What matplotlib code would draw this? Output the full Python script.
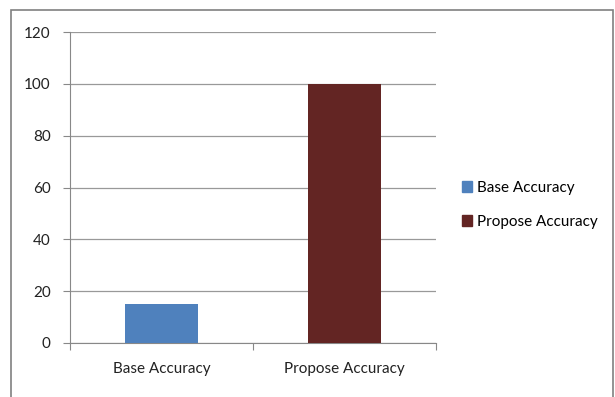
import matplotlib
matplotlib.use("Agg")
import matplotlib.pyplot as plt
from matplotlib.patches import Rectangle, Patch

categories = ["Base Accuracy", "Propose Accuracy"]
values = [15, 100]
colors = ["#4F81BD", "#632523"]
yticks = [0, 20, 40, 60, 80, 100, 120]

plt.rcParams['font.family'] = ['Lato', 'DejaVu Sans']
W, H = 615, 397
fig = plt.figure(figsize=(W/100, H/100), dpi=100)
fig.patch.set_facecolor("white")

# outer border
fig.patches.append(Rectangle((11/W, -0.05), (613-11)/W, 1.05 - 10/H, transform=fig.transFigure,
                             fill=False, edgecolor="#808080", linewidth=1.2))

fs = 11
ax = fig.add_axes([70/W, 1 - 343/H, (436-70)/W, (343-32)/H])
x = [0.5, 1.5]
ax.bar(x, values, width=0.4, color=colors, zorder=3)
ax.set_xlim(0, 2)
ax.set_ylim(0, 120)
ax.set_yticks(yticks)
ax.set_yticklabels([str(t) for t in yticks], fontsize=fs, color="#222222")
ax.set_xticks([0, 1, 2], minor=False)
ax.set_xticklabels([])
ax.set_xticks(x, minor=True)
ax.set_xticklabels(categories, minor=True, fontsize=fs, color="#222222")
ax.tick_params(axis='x', which='minor', length=0, pad=14)
ax.tick_params(axis='x', which='major', length=5, direction='out', color="#888888")
ax.tick_params(axis='y', length=5, direction='out', color="#888888", pad=9)
ax.grid(axis='y', color="#999999", linewidth=0.9, zorder=0)
for s in ["top", "right"]:
    ax.spines[s].set_visible(False)
ax.spines["left"].set_color("#888888")
ax.spines["bottom"].set_color("#888888")

handles = [Patch(color=c, label=l) for c, l in zip(colors, categories)]
fig.legend(handles=handles, loc="center left", bbox_to_anchor=(448/W, 1 - 205/H),
           frameon=False, fontsize=fs, handlelength=0.7, handleheight=0.7,
           handletextpad=0.3, labelspacing=1.3)

fig.savefig("out.png", dpi=100)
